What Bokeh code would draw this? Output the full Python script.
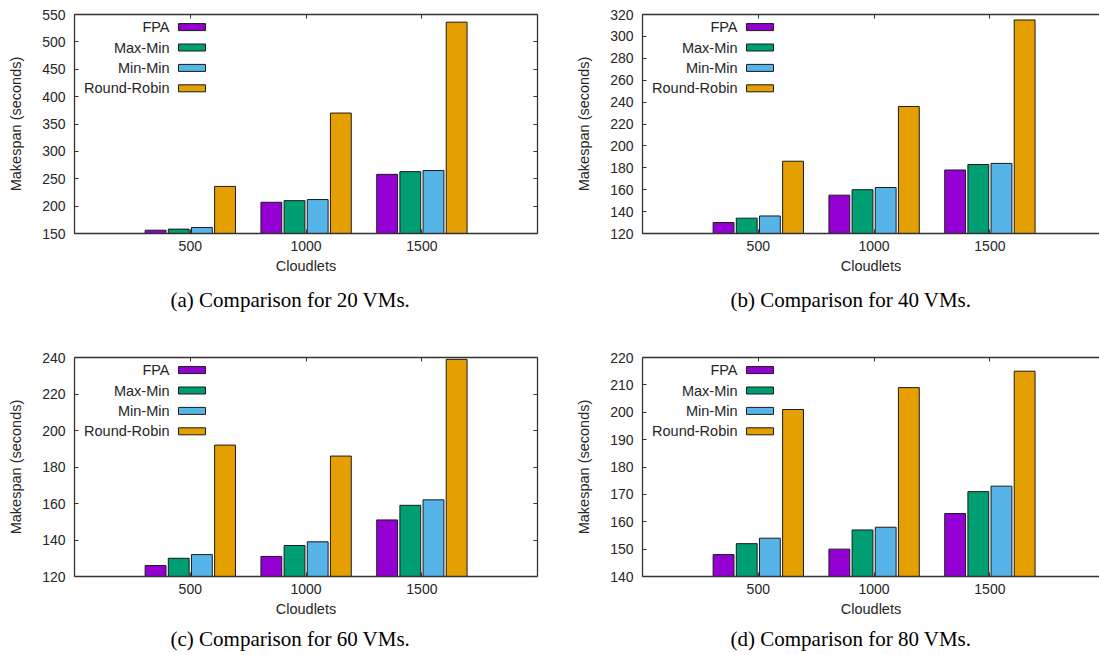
from bokeh.plotting import figure
from bokeh.models import FixedTicker, LinearAxis, Range1d, Title, Label, BoxAnnotation
from bokeh.layouts import column, row
from bokeh.embed import file_html
from bokeh.resources import INLINE

# ---------------- data ----------------
cloudlets = ["500", "1000", "1500"]
algorithms = ["FPA", "Max-Min", "Min-Min", "Round-Robin"]
colors = ["#9400D3", "#009E73", "#56B4E9", "#E69F00"]

# 20 VMs
fpa_20 = [156, 207, 258]
maxmin_20 = [158, 210, 263]
minmin_20 = [161, 212, 265]
rr_20 = [236, 370, 536]
# 40 VMs
fpa_40 = [130, 155, 178]
maxmin_40 = [134, 160, 183]
minmin_40 = [136, 162, 184]
rr_40 = [186, 236, 315]
# 60 VMs
fpa_60 = [126, 131, 151]
maxmin_60 = [130, 137, 159]
minmin_60 = [132, 139, 162]
rr_60 = [192, 186, 239]
# 80 VMs
fpa_80 = [148, 150, 163]
maxmin_80 = [152, 157, 171]
minmin_80 = [154, 158, 173]
rr_80 = [201, 209, 215]

yticks_20 = [150, 200, 250, 300, 350, 400, 450, 500, 550]
yticks_40 = [120, 140, 160, 180, 200, 220, 240, 260, 280, 300, 320]
yticks_60 = [120, 140, 160, 180, 200, 220, 240]
yticks_80 = [140, 150, 160, 170, 180, 190, 200, 210, 220]

captions = ["(a) Comparison for 20 VMs.", "(b) Comparison for 40 VMs.",
            "(c) Comparison for 60 VMs.", "(d) Comparison for 80 VMs."]

# ---------------- style ----------------
FONT = "Liberation Sans"
TXT = "#262626"
FRAME = "#333333"
BORDER_L = 74
BORDER_T = 14
FRAME_H = 219
UNIT_PX = 115.8


def base_axis(ax, ticks):
    ax.ticker = FixedTicker(ticks=ticks)
    ax.major_tick_in = 4
    ax.major_tick_out = 0
    ax.minor_tick_line_color = None
    ax.axis_line_color = FRAME
    ax.axis_line_width = 1.3
    ax.major_tick_line_color = FRAME
    ax.major_tick_line_width = 1
    ax.major_label_text_font = FONT
    ax.major_label_text_font_size = "14px"
    ax.major_label_text_color = TXT
    ax.axis_label_text_font = FONT
    ax.axis_label_text_font_size = "14.5px"
    ax.axis_label_text_font_style = "normal"
    ax.axis_label_text_color = TXT


def mirror_axis(ax, ticks):
    base_axis(ax, ticks)
    ax.major_label_overrides = {t: "" for t in ticks}
    ax.major_label_text_font_size = "0px"
    ax.major_label_standoff = 0


def make_panel(series, y_lo, y_hi, y_ticks, caption, fig_w, fig_h, border_r,
               border_b, mirror_right, cap_offset, cap_standoff):
    frame_w = fig_w - BORDER_L - border_r
    x_hi = -1 + frame_w / UNIT_PX
    p = figure(width=fig_w, height=fig_h,
               x_range=Range1d(-1, x_hi), y_range=Range1d(y_lo, y_hi),
               output_backend="svg", toolbar_location=None, tools="",
               x_axis_location=None, y_axis_location=None,
               min_border_left=BORDER_L, min_border_right=border_r,
               min_border_top=BORDER_T, min_border_bottom=border_b)
    p.outline_line_color = None
    p.background_fill_color = "white"
    p.border_fill_color = "white"
    p.grid.visible = False

    xt = list(range(len(cloudlets)))

    left = LinearAxis(axis_label="Makespan (seconds)")
    base_axis(left, y_ticks)
    left.major_label_standoff = 9
    left.axis_label_standoff = 15
    p.add_layout(left, "left")

    bottom = LinearAxis(axis_label="Cloudlets")
    base_axis(bottom, xt)
    bottom.major_label_overrides = {i: c for i, c in enumerate(cloudlets)}
    bottom.major_label_standoff = 7
    bottom.axis_label_standoff = 4
    p.add_layout(bottom, "below")

    top = LinearAxis()
    mirror_axis(top, xt)
    p.add_layout(top, "above")

    if mirror_right:
        right = LinearAxis()
        mirror_axis(right, y_ticks)
        p.add_layout(right, "right")

    # bars (gnuplot clustered histogram: 4 slots of 0.2 per cluster)
    n = len(series)
    for j, vals in enumerate(series):
        off = (j - (n - 1) / 2) * 0.2
        xs = [i + off for i in xt]
        p.vbar(x=xs, top=vals, bottom=0, width=0.18,
               fill_color=colors[j], line_color="#1a1a1a", line_width=1)

    # key (text right-aligned, sample box to the right), placed top-left
    dx = (x_hi + 1) / frame_w
    dy = (y_hi - y_lo) / FRAME_H
    for k, name in enumerate(algorithms):
        yc = y_hi - (12.6 + 20.4 * k) * dy
        p.add_layout(Label(x=-1 + 95 * dx, y=yc, text=name,
                           text_align="right", text_baseline="middle",
                           text_font=FONT, text_font_size="14.5px",
                           text_color=TXT))
        p.add_layout(BoxAnnotation(left=-1 + 104 * dx, right=-1 + 131 * dx,
                                   bottom=yc - 3.5 * dy, top=yc + 3.5 * dy,
                                   fill_color=colors[k], fill_alpha=1,
                                   line_color="#1a1a1a", line_alpha=1,
                                   line_width=1))

    p.add_layout(Title(text=caption, align="left",
                       text_font="Liberation Serif", text_font_size="21px",
                       text_font_style="normal", text_color="#000000",
                       offset=cap_offset, standoff=cap_standoff), "below")
    return p


pa = make_panel([fpa_20, maxmin_20, minmin_20, rr_20], 150, 550, yticks_20,
                captions[0], 568, 343, 31, 110, True, 96, 18)
pb = make_panel([fpa_40, maxmin_40, minmin_40, rr_40], 120, 320, yticks_40,
                captions[1], 531, 343, 0, 110, False, 88, 18)
pc = make_panel([fpa_60, maxmin_60, minmin_60, rr_60], 120, 240, yticks_60,
                captions[2], 568, 312, 31, 79, True, 96, 10)
pd = make_panel([fpa_80, maxmin_80, minmin_80, rr_80], 140, 220, yticks_80,
                captions[3], 531, 312, 0, 79, False, 88, 10)

layout = column(row(pa, pb), row(pc, pd))
open("out.html", "w").write(file_html(layout, INLINE))
